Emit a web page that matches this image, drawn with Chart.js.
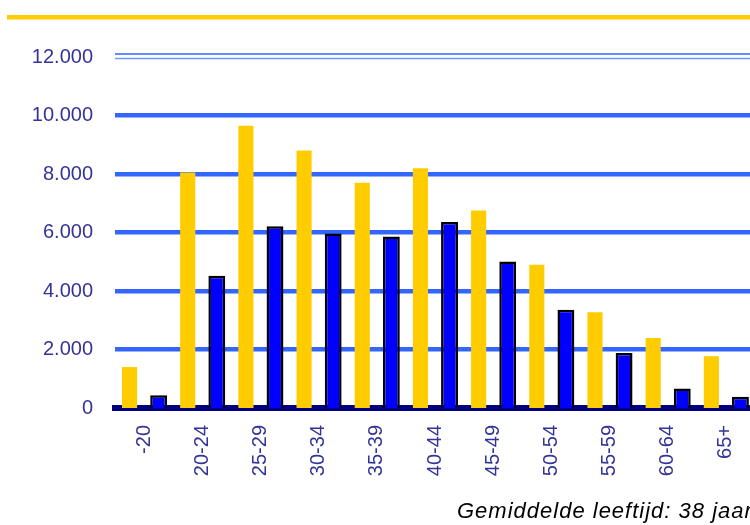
<!DOCTYPE html>
<html>
<head>
<meta charset="utf-8">
<script src="https://cdn.jsdelivr.net/npm/chart.js@4/dist/chart.umd.min.js"></script>
<style>
  html, body { margin: 0; padding: 0; overflow: hidden; background: #fff; }
  #wrap { position: relative; width: 750px; height: 525px; overflow: hidden; }
  #chartCanvas { position: absolute; left: 0; top: 0; }
  #note {
    position: absolute; left: 457px; top: 498px;
    font-family: Arial, "Liberation Sans", sans-serif; font-style: italic;
    font-size: 22px; letter-spacing: 1px; color: #000; white-space: nowrap;
  }
</style>
</head>
<body>
<div id="wrap">
  <canvas id="chartCanvas" width="755" height="525"></canvas>
  <div id="note">Gemiddelde leeftijd: 38 jaar</div>
</div>
<script>
const categories = ['-20', '20-24', '25-29', '30-34', '35-39', '40-44', '45-49', '50-54', '55-59', '60-64', '65+'];
const yellowValues = [1400, 8050, 9650, 8800, 7700, 8200, 6750, 4900, 3270, 2390, 1770];
const blueValues = [440, 4520, 6210, 5970, 5860, 6360, 5010, 3360, 1880, 670, 385];
const yTicks = [0, 2000, 4000, 6000, 8000, 10000, 12000];

function formatNl(v) {
  return String(v).replace(/\B(?=(\d{3})+(?!\d))/g, '.');
}

// yellow rule along the top, and the double line at the top gridline
const decorations = {
  id: 'decorations',
  beforeDatasetsDraw(chart) {
    const ctx = chart.ctx;
    const area = chart.chartArea;
    const yTop = chart.scales.y.getPixelForValue(yTicks[yTicks.length - 1]);
    ctx.save();
    ctx.lineWidth = 1.5;
    ctx.strokeStyle = '#3366ff';
    ctx.beginPath();
    ctx.moveTo(area.left, yTop - 3);
    ctx.lineTo(area.right, yTop - 3);
    ctx.stroke();
    ctx.strokeStyle = '#6f97ff';
    ctx.beginPath();
    ctx.moveTo(area.left, yTop + 1.5);
    ctx.lineTo(area.right, yTop + 1.5);
    ctx.stroke();
    ctx.fillStyle = '#ffcc00';
    ctx.fillRect(7, 15, chart.width, 4.5);
    ctx.restore();
  }
};

const ctx = document.getElementById('chartCanvas').getContext('2d');
new Chart(ctx, {
  type: 'bar',
  data: {
    labels: categories,
    datasets: [
      {
        data: yellowValues,
        backgroundColor: '#ffcc00',
        borderWidth: 0,
        barPercentage: 0.52,
        categoryPercentage: 1
      },
      {
        data: blueValues,
        backgroundColor: '#0000ff',
        borderColor: '#000000',
        borderWidth: 2.5,
        barPercentage: 0.58,
        categoryPercentage: 1
      }
    ]
  },
  options: {
    responsive: false,
    animation: false,
    layout: { padding: { left: 32, top: 57, right: 0, bottom: 0 } },
    plugins: {
      legend: { display: false },
      tooltip: { enabled: false }
    },
    scales: {
      x: {
        z: 1,
        afterFit(scale) {
          scale.height = 117;
          scale.paddingLeft = 0;
          scale.paddingRight = 0;
        },
        grid: { display: false },
        border: { display: true, color: '#000080', width: 6 },
        ticks: {
          autoSkip: false,
          minRotation: 90,
          maxRotation: 90,
          padding: 9,
          color: '#333399',
          font: { family: 'Arial, "Liberation Sans", sans-serif', size: 20 }
        }
      },
      y: {
        min: 0,
        max: 12000,
        afterBuildTicks(scale) {
          scale.ticks = yTicks.map(v => ({ value: v }));
        },
        afterFit(scale) {
          scale.width = 83;
        },
        grid: {
          drawTicks: false,
          color: '#3366ff',
          lineWidth: c => (c.tick && (c.tick.value === 12000 || c.tick.value === 0)) ? 0 : 4.5
        },
        border: { display: false },
        ticks: {
          padding: 22,
          color: '#333399',
          font: { family: 'Arial, "Liberation Sans", sans-serif', size: 20 },
          callback: v => formatNl(v)
        }
      }
    }
  },
  plugins: [decorations]
});
</script>
</body>
</html>
